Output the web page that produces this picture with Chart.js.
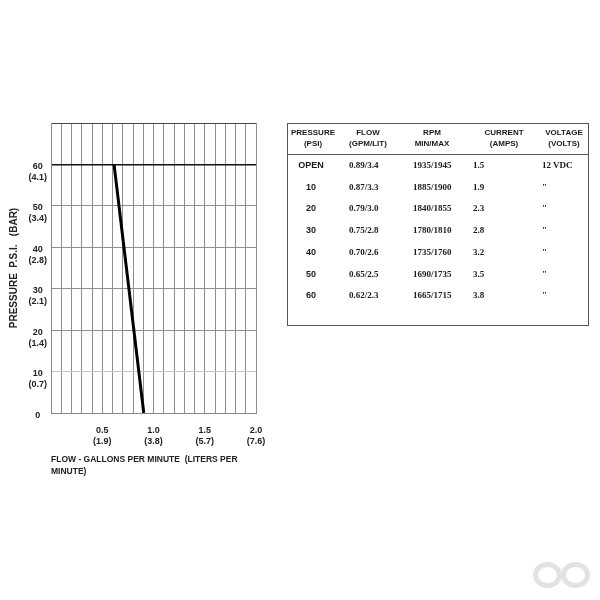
<!DOCTYPE html>
<html><head><meta charset="utf-8">
<script src="https://cdn.jsdelivr.net/npm/chart.js@4"></script>
<style>
html,body{margin:0;padding:0;background:#fff;width:600px;height:600px;overflow:hidden;}
#wrap{position:relative;width:600px;height:600px;}
#c{position:absolute;left:0;top:0;}
#tbl{position:absolute;left:287px;top:123px;width:300px;height:201px;border:1.5px solid #555;}
#hline{position:absolute;left:287px;top:154px;width:302px;height:0;border-top:1.5px solid #555;}
.t{position:absolute;white-space:nowrap;line-height:11px;color:#1a1a1a;}
.hd{font:bold 8px "Liberation Sans",Arial,sans-serif;text-align:center;transform:translateX(-50%);}
.p{font:bold 9px "Liberation Sans",Arial,sans-serif;transform:translate(-50%,-50%);}
.v{font:bold 9px "Liberation Serif","Times New Roman",serif;transform:translateY(-50%);}
.ring{position:absolute;border:5px solid #e2e2e2;border-radius:50%;box-sizing:border-box;}
</style></head><body>
<div id="wrap">
<canvas id="c" width="600" height="600"></canvas>
<div id="tbl"></div><div id="hline"></div>
<div class="ring" style="left:533px;top:562px;width:29px;height:26px;"></div>
<div class="ring" style="left:561px;top:562px;width:29px;height:26px;"></div>
<div id="cells"></div>
</div>
<script>
// ---- chart data ----
const psiTicks = [0, 10, 20, 30, 40, 50, 60];
const barLabels = ['', '(0.7)', '(1.4)', '(2.1)', '(2.8)', '(3.4)', '(4.1)'];
const gpmTicks = [0.5, 1.0, 1.5, 2.0];
const gpmLabels = ['0.5', '1.0', '1.5', '2.0'];
const lpmLabels = ['(1.9)', '(3.8)', '(5.7)', '(7.6)'];
const curveFlow = [0.905, 0.615];
const curvePsi = [0, 60];

// ---- table data ----
const headTop = ['PRESSURE', 'FLOW', 'RPM', 'CURRENT', 'VOLTAGE'];
const headBottom = ['(PSI)', '(GPM/LIT)', 'MIN/MAX', '(AMPS)', '(VOLTS)'];
const tPressure = ['OPEN', '10', '20', '30', '40', '50', '60'];
const tFlow = ['0.89/3.4', '0.87/3.3', '0.79/3.0', '0.75/2.8', '0.70/2.6', '0.65/2.5', '0.62/2.3'];
const tRpm = ['1935/1945', '1885/1900', '1840/1855', '1780/1810', '1735/1760', '1690/1735', '1665/1715'];
const tCurrent = ['1.5', '1.9', '2.3', '2.8', '3.2', '3.5', '3.8'];
const tVoltage = ['12 VDC', '"', '"', '"', '"', '"', '"'];

// table layout
const headX = [313, 368, 432, 504, 564];
const rowY0 = 165, rowStep = 21.7;
const valX = [349, 413, 473, 542];
const cells = document.getElementById('cells');
function addText(cls, txt, x, y) {
  const d = document.createElement('div');
  d.className = 't ' + cls; d.textContent = txt;
  d.style.left = x + 'px'; d.style.top = y + 'px';
  cells.appendChild(d);
}
headTop.forEach((h, i) => { addText('hd', h, headX[i], 128); addText('hd', headBottom[i], headX[i], 139); });
tPressure.forEach((p, r) => {
  const y = rowY0 + r * rowStep;
  addText('p', p, 311, y);
  [tFlow, tRpm, tCurrent, tVoltage].forEach((col, c) => addText('v', col[r], valX[c], y));
});

const near = (a, b) => Math.abs(a - b) < 1e-6;
const tickFont = {family: '"Liberation Sans", Arial, sans-serif', size: 9, weight: 'bold', lineHeight: 1.2};

new Chart(document.getElementById('c'), {
  type: 'scatter',
  data: {datasets: [{
    data: curveFlow.map((x, i) => ({x: x, y: curvePsi[i]})),
    showLine: true, borderColor: '#000', borderWidth: 3, pointRadius: 0, fill: false
  }]},
  options: {
    responsive: false, animation: false,
    layout: {padding: {left: 0, top: 123, right: 344, bottom: 122}},
    plugins: {legend: {display: false}, tooltip: {enabled: false}},
    scales: {
      x: {
        type: 'linear', min: 0, max: 2,
        border: {display: true, color: '#888', width: 1},
        grid: {drawTicks: false, color: '#8e8e8e', lineWidth: 1},
        ticks: {
          stepSize: 0.1, autoSkip: false, maxRotation: 0, minRotation: 0, maxTicksLimit: 100,
          padding: 12, color: '#222', font: tickFont,
          callback: (v) => {
            const i = gpmTicks.findIndex(t => near(t, v));
            return i < 0 ? '' : [gpmLabels[i], lpmLabels[i]];
          }
        },
        title: {
          display: true, align: 'start', color: '#222',
          text: ['FLOW - GALLONS PER MINUTE  (LITERS PER', 'MINUTE)'],
          font: {family: '"Liberation Sans", Arial, sans-serif', size: 8.5, weight: 'bold', lineHeight: '12px'},
          padding: {top: 0, bottom: 0}
        },
        afterFit: (s) => { s.height = 65; }
      },
      y: {
        type: 'linear', min: 0, max: 70,
        border: {display: true, color: '#888', width: 1},
        grid: {
          drawTicks: false,
          color: (c) => c.tick && near(c.tick.value, 60) ? '#111' : (c.tick && near(c.tick.value, 70) ? '#444' : (c.tick && near(c.tick.value, 10) ? '#c4c4c4' : '#8e8e8e')),
          lineWidth: (c) => c.tick && near(c.tick.value, 60) ? 1.5 : 1
        },
        ticks: {
          stepSize: 10, autoSkip: false, padding: 4, crossAlign: 'center', labelOffset: 7.5,
          color: '#222', font: tickFont,
          callback: (v) => {
            const i = psiTicks.findIndex(t => near(t, v));
            return i < 0 ? '' : [String(psiTicks[i]), barLabels[i]];
          }
        },
        title: {
          display: true, color: '#222', text: 'PRESSURE  P.S.I.   (BAR)',
          font: {family: '"Liberation Sans", Arial, sans-serif', size: 10, weight: 'bold', lineHeight: '12px'},
          padding: {top: 8, bottom: 0}
        },
        afterFit: (s) => { s.width = 51; }
      }
    }
  }
});
</script>
</body></html>
